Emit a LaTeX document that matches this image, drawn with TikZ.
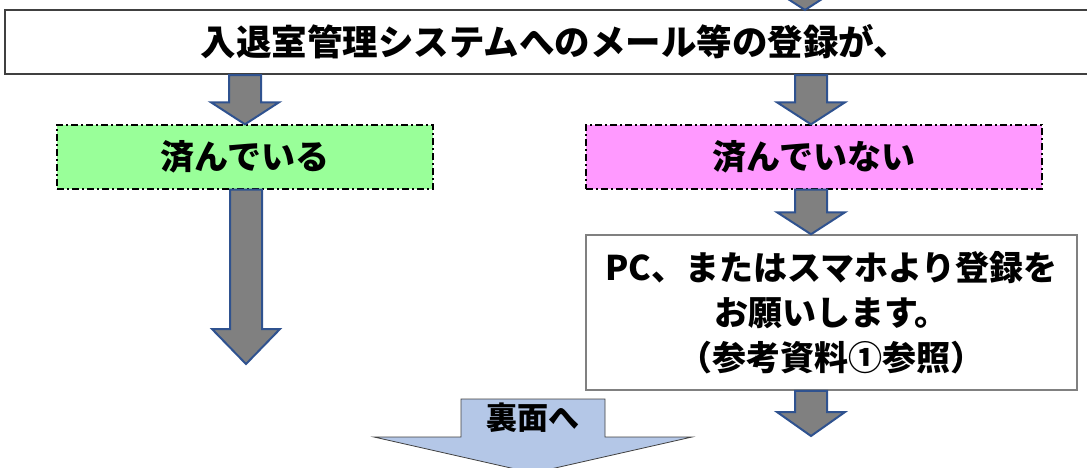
\documentclass[tikz,border=0pt]{standalone}
\usepackage{fontspec}
\setmainfont{Noto Sans CJK JP}
\usetikzlibrary{calc}
\definecolor{okgreen}{HTML}{99FF99}
\definecolor{ngpink}{HTML}{FF99FF}
\definecolor{backblue}{HTML}{B4C7E7}
\definecolor{arrowblue}{HTML}{2F528F}
% block arrow pointing down, from #2 to #3, head length #1
\newcommand{\grayarrow}[3][22]{%
  \draw[garrow] let \p1=(#2), \p2=(#3) in
    (\x1-16pt,\y1) -- (\x1+16pt,\y1) -- (\x1+16pt,\y2+#1pt) -- (\x1+34pt,\y2+#1pt)
    -- (\x2,\y2) -- (\x1-34pt,\y2+#1pt) -- (\x1-16pt,\y2+#1pt) -- cycle;}
\begin{document}
\begin{tikzpicture}[x=1pt,y=-1pt,
  garrow/.style = {fill=gray,draw=arrowblue,line width=2pt,line join=miter},
  box/.style = {rectangle,draw=darkgray,line width=2pt,fill=white,inner sep=0pt,
                font=\bfseries\fontsize{34}{45}\selectfont},
  dashbox/.style = {box,draw=black,line width=1.4pt,dash pattern=on 7pt off 3pt on 2pt off 3pt},
  ]
\useasboundingbox (0,0) rectangle (1087,467);
% boxes
\node[box,minimum width=1100,minimum height=64,font=\bfseries\fontsize{35.5}{40}\selectfont] (regist) at (555,42) {入退室管理システムへのメール等の登録が、};
\node[dashbox,fill=okgreen,minimum width=376,minimum height=64] (done) at (245,157) {済んでいる};
\node[dashbox,fill=ngpink,minimum width=456,minimum height=64] (notdone) at (814,157) {済んでいない};
\node[box,draw=gray,line width=1.5pt,minimum width=491,minimum height=155,align=center] (please) at (831.5,312.5)
  {PC、またはスマホより登録を\\お願いします。\\（参考資料①参照）};
% arrows
\coordinate (intop) at (805,-40);
\coordinate (in) at (805,10);
\grayarrow{intop}{in}
\grayarrow{regist.south -| done}{done.north}
\grayarrow{regist.south -| 811,0}{notdone.north -| 811,0}
\grayarrow{notdone.south -| 811,0}{please.north -| 811,0}
\coordinate (leftend) at (246,364);
\grayarrow[35]{done.south -| leftend}{leftend}
\coordinate (rightend) at (811,436);
\grayarrow[24]{please.south -| rightend}{rightend}
% to back side
\draw[fill=backblue,draw=darkgray,line width=0.8pt]
  (461,399) -- (605,399) -- (605,437) -- (692,437) -- (533,473) -- (374,437) -- (461,437) -- cycle;
\node[font=\bfseries\fontsize{31}{36}\selectfont] (back) at (533,418) {裏面へ};
\end{tikzpicture}
\end{document}
